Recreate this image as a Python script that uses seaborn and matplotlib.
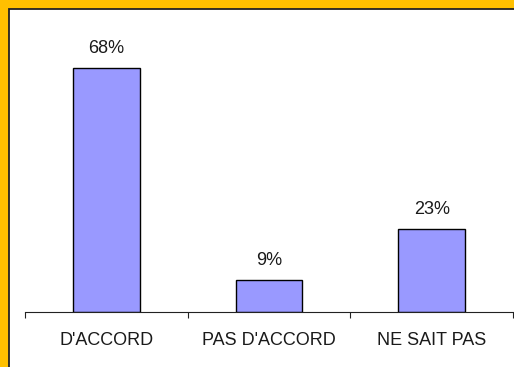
import matplotlib
matplotlib.use("Agg")
import matplotlib.pyplot as plt
from matplotlib.patches import Rectangle
import seaborn as sns

# data
categories = ["D'ACCORD", "PAS D'ACCORD", "NE SAIT PAS"]
values = [68, 9, 23]
value_labels = ["68%", "9%", "23%"]

W, H = 514, 367

sns.set_style("white")
plt.rcParams["font.family"] = ["Liberation Sans", "DejaVu Sans"]

fig = plt.figure(figsize=(W / 100, H / 100), dpi=100)
fig.patch.set_facecolor("#FFC000")

# white panel with a dark edge on the top / left (orange frame shows there)
panel = Rectangle(
    (9 / W, -0.05), 1.2, (H - 9) / H + 0.05,
    transform=fig.transFigure, facecolor="white",
    edgecolor="#222222", linewidth=1.3, zorder=-1,
)
fig.patches.append(panel)

ax = fig.add_axes([25 / W, 55 / H, 488 / W, 287 / H])
ax.set_facecolor("none")

sns.barplot(
    x=categories, y=values, color="#9999FF", saturation=1,
    edgecolor="black", linewidth=1.0, width=0.41, ax=ax,
)

for cont in ax.containers:
    ax.bar_label(cont, labels=value_labels, padding=8, fontsize=13, color="#1a1a1a")

ax.set_xlim(-0.5, 2.5)
ax.set_ylim(0, 80)
ax.set_yticks([])
ax.set_ylabel("")
ax.set_xlabel("")

# boundary ticks as major, category names as minor
ax.set_xticks([-0.5, 0.5, 1.5, 2.5])
ax.set_xticklabels([""] * 4)
ax.set_xticks([0, 1, 2], minor=True)
ax.set_xticklabels(categories, minor=True, fontsize=13, color="#1a1a1a")
ax.tick_params(axis="x", which="major", direction="out", length=4.5,
               width=0.8, color="#222222", bottom=True)
ax.tick_params(axis="x", which="minor", length=0, pad=14.5)

for side in ["left", "top", "right"]:
    ax.spines[side].set_visible(False)
ax.spines["bottom"].set_color("#222222")
ax.spines["bottom"].set_linewidth(0.8)

fig.savefig("out.png", dpi=100, facecolor=fig.get_facecolor())
